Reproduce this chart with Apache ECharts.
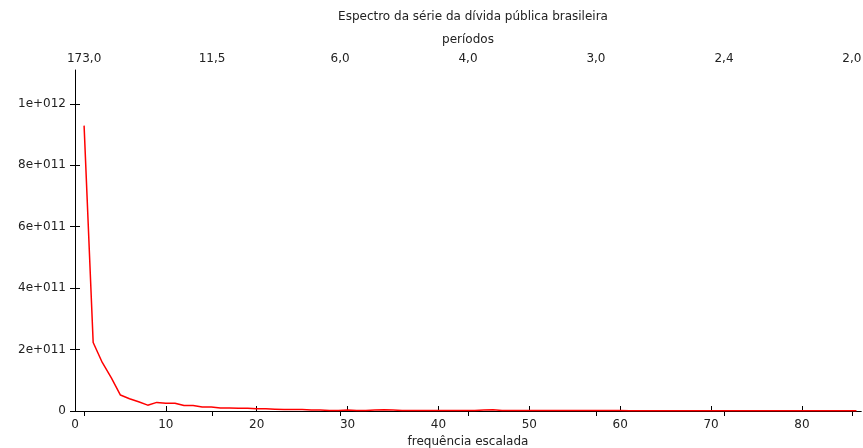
<!DOCTYPE html>
<html style="height: 100%">
<head>
    <meta charset="utf-8">
    <script src="https://cdn.jsdelivr.net/npm/echarts@6/dist/echarts.min.js"></script>
    <title>Espectro da série da dívida pública brasileira</title>
</head>
<body style="height: 100%; margin: 0">
<div id="container" style="width: 863px; height: 448px"></div>
<script type="text/javascript">
    // scaled frequency j = 1..86, spectral density
    let freq = [];
    for (let j = 1; j <= 86; j++) freq.push(j);
    let spectrum = [
        9.29e11, 2.23e11, 1.58e11, 1.08e11, 5.2e10, 4.0e10, 3.0e10, 1.9e10, 2.8e10, 2.5e10,
        2.5e10, 1.8e10, 1.8e10, 1.3e10, 1.3e10, 1.0e10, 1.0e10, 9e9, 9e9, 7e9,
        7e9, 6e9, 5e9, 5e9, 5e9, 3e9, 3e9, 2e9, 2e9, 3e9,
        2e9, 2e9, 3e9, 4e9, 3e9, 2e9, 2e9, 2e9, 2e9, 2e9,
        2e9, 2e9, 2e9, 2e9, 3e9, 4e9, 2e9, 2e9, 2e9, 1.5e9,
        1.5e9, 1.5e9, 1.5e9, 1.5e9, 1.5e9, 1.5e9, 1.5e9, 1.5e9, 1.5e9, 1.5e9,
        1e9, 1e9, 1e9, 1e9, 1e9, 1e9, 1e9, 1e9, 1e9, 1e9,
        1e9, 1e9, 1e9, 1e9, 1e9, 1e9, 1e9, 1e9, 1e9, 1e9,
        1e9, 1e9, 1e9, 1e9, 1e9, 1e9
    ];
    // top axis: periods
    let periodTicks = [1, 15.08, 29.17, 43.25, 57.33, 71.42, 85.5];
    let periodLabels = ['173,0', '11,5', '6,0', '4,0', '3,0', '2,4', '2,0'];
    let yTicks = [0, 2e11, 4e11, 6e11, 8e11, 1e12];

    function sci(v) {
        if (v === 0) return '0';
        let e = Math.floor(Math.log10(v) + 1e-9);
        let m = Math.round(v / Math.pow(10, e) * 10) / 10;
        let es = String(e);
        while (es.length < 3) es = '0' + es;
        return m + 'e+' + es;
    }

    let font = 'DejaVu Sans';
    let txt = {color: '#222', fontFamily: font, fontSize: 12};

    let chart = echarts.init(document.getElementById('container'));
    chart.setOption({
        animation: false,
        title: {
            text: 'Espectro da série da dívida pública brasileira',
            left: 468, top: 6, textAlign: 'center',
            textStyle: {color: '#222', fontFamily: font, fontSize: 12, fontWeight: 'normal'}
        },
        grid: {left: 75, right: 2, top: 70, bottom: 37, outerBoundsMode: 'none'},
        xAxis: [{
            type: 'value', position: 'bottom', min: 0, max: 86.5, interval: 10,
            name: 'frequência escalada', nameLocation: 'middle', nameGap: 24,
            nameTextStyle: txt,
            axisLine: {lineStyle: {color: '#000', width: 1}},
            axisTick: {inside: true, length: 5, lineStyle: {color: '#000'}},
            axisLabel: Object.assign({margin: 8, showMaxLabel: false}, txt),
            splitLine: {show: false}
        }, {
            type: 'value', position: 'top', min: 0, max: 86.5,
            name: 'períodos', nameLocation: 'middle', nameGap: 24,
            nameTextStyle: txt,
            axisLine: {lineStyle: {color: '#000', width: 1}},
            axisTick: {inside: true, length: 5, customValues: periodTicks, lineStyle: {color: '#000'}},
            axisLabel: Object.assign({
                margin: 5,
                customValues: periodTicks,
                formatter: v => {
                    let i = periodTicks.indexOf(v);
                    return i >= 0 ? periodLabels[i] : '';
                }
            }, txt),
            splitLine: {show: false}
        }],
        yAxis: [{
            type: 'value', position: 'left', min: 0, max: 1.11e12,
            axisLine: {show: true, lineStyle: {color: '#000', width: 1}},
            axisTick: {inside: true, length: 5, customValues: yTicks, lineStyle: {color: '#000'}},
            axisLabel: Object.assign({margin: 9, customValues: yTicks, formatter: sci}, txt),
            splitLine: {show: false}
        }, {
            type: 'value', position: 'right', min: 0, max: 1.11e12,
            axisLine: {show: false},
            axisTick: {show: true, inside: true, length: 5, customValues: yTicks, lineStyle: {color: '#000'}},
            axisLabel: {show: false},
            splitLine: {show: false}
        }],
        series: [{
            type: 'line',
            data: freq.map((f, i) => [f, spectrum[i]]),
            showSymbol: false,
            lineStyle: {color: '#ff0000', width: 1.5},
            itemStyle: {color: '#ff0000'}
        }]
    });
</script>
</body>
</html>
